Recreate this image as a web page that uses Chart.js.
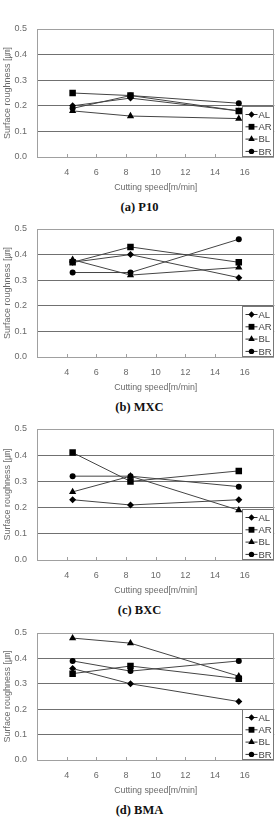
<!DOCTYPE html>
<html>
<head>
<meta charset="utf-8">
<script src="https://cdn.jsdelivr.net/npm/chart.js@4/dist/chart.umd.min.js"></script>
<style>
  body { margin: 0; background: #fff; width: 279px; height: 821px; position: relative; overflow: hidden; }
  .block { position: absolute; left: 0; width: 279px; }
  .caption { position: absolute; left: 0; width: 279px; text-align: center; font: bold 12.5px "Liberation Serif", "DejaVu Serif", serif; color: #111; line-height: 14px; }
</style>
</head>
<body>
<script>
// Cutting speeds [m/min]
const speeds = [4.4, 8.3, 15.6]
const seriesNames = ["AL", "AR", "BL", "BR"]
const xTicks = [4, 6, 8, 10, 12, 14, 16]
const yTicks = [0, 0.1, 0.2, 0.3, 0.4, 0.5]

// Surface roughness values, rows in order AL, AR, BL, BR
const p10Values = [
  [0.20, 0.23, 0.18],
  [0.25, 0.24, 0.18],
  [0.18, 0.16, 0.15],
  [0.19, 0.24, 0.21],
]
const mxcValues = [
  [0.37, 0.40, 0.31],
  [0.37, 0.43, 0.37],
  [0.38, 0.32, 0.35],
  [0.33, 0.33, 0.46],
]
const bxcValues = [
  [0.23, 0.21, 0.23],
  [0.41, 0.30, 0.34],
  [0.26, 0.32, 0.19],
  [0.32, 0.32, 0.28],
]
const bmaValues = [
  [0.36, 0.30, 0.23],
  [0.34, 0.37, 0.32],
  [0.48, 0.46, 0.33],
  [0.39, 0.35, 0.39],
]

const captions = ["(a)  P10", "(b)  MXC", "(c)  BXC", "(d)  BMA"]
const allValues = [p10Values, mxcValues, bxcValues, bmaValues]

// marker styles per series
const pointStyles = ["rectRot", "rect", "triangle", "circle"]
const pointSizes = [3.5, 4.6, 4.2, 3]

// block placement
const blockTops = [0, 200, 400, 604]
const areaHeights = [128, 128, 131, 127]
const PAD_TOP = 29
const X_AXIS_H = 42

const tickFont = { family: "'Liberation Sans', 'Noto Sans CJK KR', sans-serif", size: 9 }
const GREY = "#6a6a6a"

function drawMarker(ctx, style, r, x, y) {
  ctx.beginPath()
  if (style === "rectRot") {
    ctx.moveTo(x, y - r); ctx.lineTo(x + r, y); ctx.lineTo(x, y + r); ctx.lineTo(x - r, y)
  } else if (style === "rect") {
    const s = r * Math.SQRT1_2
    ctx.rect(x - s, y - s, 2 * s, 2 * s)
  } else if (style === "triangle") {
    ctx.moveTo(x, y - r); ctx.lineTo(x + r * 0.866, y + r * 0.5); ctx.lineTo(x - r * 0.866, y + r * 0.5)
  } else {
    ctx.arc(x, y, r, 0, Math.PI * 2)
  }
  ctx.closePath()
  ctx.fill()
}

// frame around the plot plus small inward tick marks on the x axis
const framePlugin = {
  id: "frame",
  beforeDatasetsDraw(chart) {
    const { ctx, chartArea: a, scales } = chart
    ctx.save()
    ctx.strokeStyle = "#a0a0a0"
    ctx.lineWidth = 1
    ctx.strokeRect(Math.round(a.left) + 0.5, Math.round(a.top) + 0.5, Math.round(a.right - a.left) - 1, Math.round(a.bottom - a.top))
    ctx.beginPath()
    xTicks.forEach((v) => {
      const px = Math.round(scales.x.getPixelForValue(v)) + 0.5
      ctx.moveTo(px, a.bottom)
      ctx.lineTo(px, a.bottom - 3)
    })
    ctx.stroke()
    ctx.restore()
  },
}

// boxed legend in the lower right corner of the plot
const boxLegendPlugin = {
  id: "boxLegend",
  afterDatasetsDraw(chart) {
    const { ctx, chartArea: a } = chart
    const w = 32, h = 50
    const left = Math.round(a.right - w) + 0.5
    const top = Math.round(a.bottom - h - 1) + 0.5
    ctx.save()
    ctx.fillStyle = "#fff"
    ctx.fillRect(left, top, w, h)
    ctx.strokeStyle = "#777"
    ctx.lineWidth = 1
    ctx.strokeRect(left, top, w - 1, h)
    chart.data.datasets.forEach((ds, i) => {
      const y = top + 8 + i * 12.3
      ctx.strokeStyle = "#333"
      ctx.beginPath()
      ctx.moveTo(left + 3, y)
      ctx.lineTo(left + 15, y)
      ctx.stroke()
      ctx.fillStyle = "#000"
      drawMarker(ctx, ds.pointStyle, ds.pointRadius * 0.9, left + 9, y)
      ctx.fillStyle = "#444"
      ctx.font = "9.5px 'Liberation Sans', sans-serif"
      ctx.textBaseline = "middle"
      ctx.fillText(ds.label, left + 16, y + 0.5)
    })
    ctx.restore()
  },
}

allValues.forEach((values, idx) => {
  const block = document.createElement("div")
  block.className = "block"
  block.style.top = blockTops[idx] + "px"
  const canvasH = PAD_TOP + areaHeights[idx] + X_AXIS_H
  block.style.height = canvasH + 20 + "px"
  const canvas = document.createElement("canvas")
  canvas.width = 279
  canvas.height = canvasH
  canvas.style.width = "279px"
  canvas.style.height = canvasH + "px"
  block.appendChild(canvas)
  const cap = document.createElement("div")
  cap.className = "caption"
  cap.style.top = PAD_TOP + areaHeights[idx] + 43 + "px"
  cap.textContent = captions[idx]
  block.appendChild(cap)
  document.body.appendChild(block)

  new Chart(canvas, {
    type: "line",
    data: {
      datasets: seriesNames.map((name, i) => ({
        label: name,
        data: speeds.map((s, j) => ({ x: s, y: values[i][j] })),
        borderColor: "#444",
        borderWidth: 1,
        backgroundColor: "#000",
        pointBackgroundColor: "#000",
        pointBorderColor: "#000",
        pointBorderWidth: 0,
        pointStyle: pointStyles[i],
        pointRadius: pointSizes[i],
        tension: 0,
      })),
    },
    options: {
      responsive: false,
      animation: false,
      devicePixelRatio: 1,
      layout: { padding: { top: PAD_TOP, left: 0, right: 3, bottom: 0 } },
      plugins: {
        legend: { display: false },
        tooltip: { enabled: false },
      },
      scales: {
        x: {
          type: "linear",
          min: 2,
          max: 18,
          afterFit: (scale) => { scale.height = X_AXIS_H },
          afterBuildTicks: (scale) => { scale.ticks = [2, ...xTicks, 18].map((v) => ({ value: v })) },
          grid: { display: false, drawTicks: true, tickLength: 10 },
          border: { display: false },
          ticks: {
            autoSkip: false,
            maxRotation: 0,
            padding: 0,
            color: GREY,
            font: tickFont,
            callback: (v) => (xTicks.includes(v) ? String(v) : ""),
          },
          title: {
            display: true,
            text: "Cutting speed[m/min]",
            color: GREY,
            font: { family: tickFont.family, size: 8.8 },
            padding: { top: 0, bottom: 6 },
          },
        },
        y: {
          min: 0,
          max: 0.5,
          afterFit: (scale) => { scale.width = 37 },
          afterBuildTicks: (scale) => { scale.ticks = yTicks.map((v) => ({ value: v })) },
          grid: {
            drawTicks: false,
            color: (c) => (c.tick && c.tick.value > 0.05 && c.tick.value < 0.45 ? "#707070" : "rgba(0,0,0,0)"),
            lineWidth: 1,
          },
          border: { display: false },
          ticks: {
            padding: 10,
            color: GREY,
            font: tickFont,
            callback: (v) => v.toFixed(1),
          },
          title: {
            display: true,
            text: "Surface roughness [㎛]",
            color: GREY,
            font: { family: tickFont.family, size: 9 },
            padding: { top: 2, bottom: 0 },
          },
        },
      },
    },
    plugins: [framePlugin, boxLegendPlugin],
  })
})
</script>
</body>
</html>
